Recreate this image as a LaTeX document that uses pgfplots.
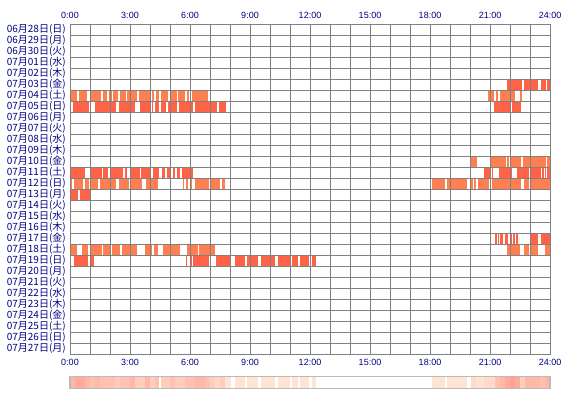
\documentclass[border=0pt]{standalone}
\usepackage{pgfplots}
\pgfplotsset{compat=1.18}
\usepackage{fontspec}
\setmainfont{Liberation Sans}
\newfontfamily\jp{Noto Sans CJK JP}
\definecolor{labc}{HTML}{000080}
\definecolor{gridc}{HTML}{808080}
\definecolor{barA}{HTML}{FF7F50}
\definecolor{barB}{HTML}{FF6347}
\definecolor{sbord}{HTML}{BBBBBB}
\definecolor{sA}{HTML}{FFE4D4}
\definecolor{sB}{HTML}{FFD9C9}
\definecolor{sC}{HTML}{FFCDBD}
\definecolor{sD}{HTML}{FFC2B2}
\definecolor{sE}{HTML}{FFB7A7}
\definecolor{sF}{HTML}{FFAB9B}
\definecolor{sG}{HTML}{FFA090}
\pgfplotsset{
  rowbar/.style={line width=10bp, line cap=butt, unbounded coords=jump, mark=none},
  stripbar/.style={line width=12bp, line cap=butt, unbounded coords=jump, mark=none},
}
\begin{document}
\begin{tikzpicture}[x=1bp,y=1bp]
\path[use as bounding box] (0,0) rectangle (570,-400);
% bottom tick labels (separate axis)
\begin{axis}[
  at={(70bp,-354bp)}, anchor=south west,
  scale only axis, width=480bp, height=330bp,
  xmin=0, xmax=24, ymin=-0.5, ymax=29.5,
  hide y axis, axis x line*=bottom, axis line style={draw=none},
  xtick={0,3,...,24},
  xticklabels={0:00,3:00,6:00,9:00,12:00,15:00,18:00,21:00,24:00},
  major tick length=0,
  xticklabel style={text=labc, font=\fontsize{9bp}{9bp}\selectfont, inner sep=0pt, anchor=north, yshift=-4.5bp},
]
\end{axis}
\begin{axis}[
  at={(70bp,-354bp)}, anchor=south west,
  scale only axis, width=480bp, height=330bp,
  xmin=0, xmax=24, ymin=-0.5, ymax=29.5, y dir=reverse,
  xtick={0,3,...,24},
  xticklabels={0:00,3:00,6:00,9:00,12:00,15:00,18:00,21:00,24:00},
  xticklabel pos=right,
  minor x tick num=2,
  ytick={0,...,29},
  yticklabels={{06月28日(日)},{06月29日(月)},{06月30日(火)},{07月01日(水)},{07月02日(木)},{07月03日(金)},{07月04日(土)},{07月05日(日)},{07月06日(月)},{07月07日(火)},{07月08日(水)},{07月09日(木)},{07月10日(金)},{07月11日(土)},{07月12日(日)},{07月13日(月)},{07月14日(火)},{07月15日(水)},{07月16日(木)},{07月17日(金)},{07月18日(土)},{07月19日(日)},{07月20日(月)},{07月21日(火)},{07月22日(水)},{07月23日(木)},{07月24日(金)},{07月25日(土)},{07月26日(日)},{07月27日(月)}},
  minor ytick={-0.5,0.5,...,29.5},
  xmajorgrids, xminorgrids, yminorgrids,
  major grid style={gridc, line width=1bp},
  minor grid style={gridc, line width=1bp},
  axis line style={gridc, line width=1bp},
  major tick length=0, minor tick length=0,
  axis on top,
  xticklabel style={text=labc, font=\fontsize{9bp}{9bp}\selectfont, inner sep=0pt, anchor=south, yshift=5bp},
  yticklabel style={text=labc, font=\jp\fontsize{10bp}{10bp}\selectfont, inner sep=0pt, anchor=east, xshift=-4bp},
]
% 07/03
\addplot[barB, rowbar] coordinates {(21.87,5)(22.6,5) (nan,nan) (22.7,5)(23.0,5) (nan,nan) (23.05,5)(23.38,5) (nan,nan) (23.55,5)(23.78,5) (nan,nan) (23.85,5)(24,5)};
% 07/04
\addplot[barA, rowbar] coordinates {(0.03,6)(0.37,6) (nan,nan) (0.45,6)(0.87,6) (nan,nan) (1.03,6)(1.53,6) (nan,nan) (1.63,6)(1.87,6) (nan,nan) (1.97,6)(2.08,6) (nan,nan) (2.13,6)(2.42,6) (nan,nan) (2.5,6)(2.8,6) (nan,nan) (2.87,6)(3.33,6) (nan,nan) (3.45,6)(4.03,6) (nan,nan) (4.12,6)(4.2,6) (nan,nan) (4.28,6)(4.45,6) (nan,nan) (4.55,6)(4.92,6) (nan,nan) (5.0,6)(5.33,6) (nan,nan) (5.42,6)(5.75,6) (nan,nan) (5.83,6)(5.97,6) (nan,nan) (6.08,6)(6.92,6) (nan,nan) (7.0,6)(7.07,6) (nan,nan) (20.92,6)(21.0,6) (nan,nan) (21.07,6)(21.22,6) (nan,nan) (21.28,6)(21.42,6) (nan,nan) (21.5,6)(22.25,6) (nan,nan) (22.5,6)(22.6,6)};
% 07/05
\addplot[barB, rowbar] coordinates {(0.13,7)(0.93,7) (nan,nan) (1.27,7)(2.3,7) (nan,nan) (2.45,7)(3.25,7) (nan,nan) (3.5,7)(4.0,7) (nan,nan) (4.1,7)(4.17,7) (nan,nan) (4.25,7)(4.45,7) (nan,nan) (4.55,7)(4.8,7) (nan,nan) (4.88,7)(5.35,7) (nan,nan) (5.45,7)(6.15,7) (nan,nan) (6.27,7)(7.33,7) (nan,nan) (7.45,7)(7.8,7) (nan,nan) (21.2,7)(22.0,7) (nan,nan) (22.08,7)(22.53,7)};
% 07/10
\addplot[barA, rowbar] coordinates {(20.05,12)(20.33,12) (nan,nan) (21.05,12)(21.8,12) (nan,nan) (21.87,12)(21.95,12) (nan,nan) (22.03,12)(22.53,12) (nan,nan) (22.63,12)(23.0,12) (nan,nan) (23.05,12)(23.78,12) (nan,nan) (23.87,12)(24,12)};
% 07/11
\addplot[barB, rowbar] coordinates {(0.03,13)(0.75,13) (nan,nan) (1.05,13)(1.62,13) (nan,nan) (1.67,13)(1.92,13) (nan,nan) (2.03,13)(2.67,13) (nan,nan) (2.75,13)(2.83,13) (nan,nan) (3.03,13)(3.5,13) (nan,nan) (3.55,13)(4.0,13) (nan,nan) (4.15,13)(4.45,13) (nan,nan) (4.58,13)(4.75,13) (nan,nan) (4.83,13)(5.03,13) (nan,nan) (5.13,13)(5.25,13) (nan,nan) (5.33,13)(5.5,13) (nan,nan) (5.58,13)(6.13,13) (nan,nan) (20.7,13)(21.0,13) (nan,nan) (21.1,13)(21.17,13) (nan,nan) (21.45,13)(22.1,13) (nan,nan) (22.33,13)(22.97,13) (nan,nan) (23.05,13)(23.55,13) (nan,nan) (23.62,13)(23.68,13) (nan,nan) (23.73,13)(23.78,13) (nan,nan) (23.85,13)(24,13)};
% 07/12
\addplot[barA, rowbar] coordinates {(0.03,14)(0.08,14) (nan,nan) (0.22,14)(0.67,14) (nan,nan) (0.75,14)(0.97,14) (nan,nan) (1.05,14)(1.38,14) (nan,nan) (1.5,14)(2.3,14) (nan,nan) (2.47,14)(2.93,14) (nan,nan) (3.07,14)(3.58,14) (nan,nan) (3.8,14)(4.38,14) (nan,nan) (5.67,14)(5.72,14) (nan,nan) (5.8,14)(5.88,14) (nan,nan) (6.0,14)(6.1,14) (nan,nan) (6.25,14)(6.95,14) (nan,nan) (7.05,14)(7.5,14) (nan,nan) (7.58,14)(7.75,14) (nan,nan) (18.1,14)(18.75,14) (nan,nan) (18.85,14)(19.85,14) (nan,nan) (20.03,14)(20.13,14) (nan,nan) (20.2,14)(20.28,14) (nan,nan) (20.38,14)(20.97,14) (nan,nan) (21.12,14)(22.53,14) (nan,nan) (22.7,14)(22.97,14) (nan,nan) (23.0,14)(24,14)};
% 07/13
\addplot[barB, rowbar] coordinates {(0.03,15)(0.42,15) (nan,nan) (0.52,15)(1.0,15)};
% 07/17
\addplot[barB, rowbar] coordinates {(21.25,19)(21.33,19) (nan,nan) (21.38,19)(21.45,19) (nan,nan) (21.5,19)(21.63,19) (nan,nan) (21.75,19)(21.88,19) (nan,nan) (22.05,19)(22.12,19) (nan,nan) (22.17,19)(22.25,19) (nan,nan) (22.3,19)(22.38,19) (nan,nan) (23.0,19)(23.38,19) (nan,nan) (23.55,19)(24,19)};
% 07/18
\addplot[barA, rowbar] coordinates {(0.03,20)(0.33,20) (nan,nan) (0.58,20)(0.92,20) (nan,nan) (1.03,20)(1.58,20) (nan,nan) (1.67,20)(2.0,20) (nan,nan) (2.08,20)(2.5,20) (nan,nan) (2.58,20)(3.37,20) (nan,nan) (3.75,20)(4.08,20) (nan,nan) (4.2,20)(4.42,20) (nan,nan) (4.67,20)(5.5,20) (nan,nan) (5.83,20)(6.42,20) (nan,nan) (6.47,20)(7.25,20) (nan,nan) (21.85,20)(22.5,20) (nan,nan) (22.7,20)(22.97,20) (nan,nan) (23.03,20)(23.38,20) (nan,nan) (23.75,20)(24,20)};
% 07/19
\addplot[barB, rowbar] coordinates {(0.2,21)(0.92,21) (nan,nan) (1.03,21)(1.2,21) (nan,nan) (5.78,21)(5.87,21) (nan,nan) (6.0,21)(6.08,21) (nan,nan) (6.13,21)(6.97,21) (nan,nan) (7.3,21)(8.03,21) (nan,nan) (8.25,21)(8.75,21) (nan,nan) (8.83,21)(9.42,21) (nan,nan) (9.53,21)(10.25,21) (nan,nan) (10.42,21)(11.0,21) (nan,nan) (11.1,21)(11.42,21) (nan,nan) (11.5,21)(11.97,21) (nan,nan) (12.08,21)(12.28,21)};
\end{axis}
% density strip
\begin{axis}[
  at={(70bp,-388.5bp)}, anchor=south west,
  scale only axis, width=480bp, height=12bp,
  xmin=0, xmax=24, ymin=-0.5, ymax=0.5,
  ticks=none, axis on top,
  axis line style={sbord, line width=1.2bp},
]
\addplot[sA, stripbar] coordinates {(7.75,0)(8.03,0) (nan,nan) (8.25,0)(8.75,0) (nan,nan) (8.83,0)(9.42,0) (nan,nan) (9.53,0)(10.25,0) (nan,nan) (10.42,0)(11.0,0) (nan,nan) (11.1,0)(11.42,0) (nan,nan) (11.5,0)(11.97,0) (nan,nan) (12.08,0)(12.28,0) (nan,nan) (18.1,0)(18.75,0) (nan,nan) (18.85,0)(19.85,0) (nan,nan) (20.3,0)(20.7,0)};
\addplot[sB, stripbar] coordinates {(7.25,0)(7.5,0) (nan,nan) (20.03,0)(20.3,0) (nan,nan) (20.7,0)(21.25,0)};
\addplot[sC, stripbar] coordinates {(2.25,0)(2.5,0) (nan,nan) (3.25,0)(3.75,0) (nan,nan) (4.0,0)(4.25,0) (nan,nan) (4.53,0)(5.0,0) (nan,nan) (5.25,0)(5.75,0) (nan,nan) (7.0,0)(7.25,0) (nan,nan) (7.5,0)(7.75,0) (nan,nan) (22.5,0)(22.75,0)};
\addplot[sD, stripbar] coordinates {(1.0,0)(1.25,0) (nan,nan) (1.5,0)(2.25,0) (nan,nan) (2.5,0)(3.0,0) (nan,nan) (4.25,0)(4.47,0) (nan,nan) (5.0,0)(5.25,0) (nan,nan) (5.75,0)(6.25,0) (nan,nan) (6.75,0)(7.0,0) (nan,nan) (21.25,0)(21.5,0) (nan,nan) (23.5,0)(23.75,0)};
\addplot[sE, stripbar] coordinates {(0,0)(0.25,0) (nan,nan) (0.75,0)(1.0,0) (nan,nan) (1.25,0)(1.5,0) (nan,nan) (3.0,0)(3.25,0) (nan,nan) (3.75,0)(4.0,0) (nan,nan) (6.25,0)(6.75,0) (nan,nan) (21.5,0)(21.75,0) (nan,nan) (22.75,0)(23.5,0) (nan,nan) (23.75,0)(24,0)};
\addplot[sF, stripbar] coordinates {(0.25,0)(0.75,0) (nan,nan) (21.75,0)(22.0,0) (nan,nan) (22.25,0)(22.5,0)};
\addplot[sG, stripbar] coordinates {(22.0,0)(22.25,0)};
\end{axis}
\end{tikzpicture}
\end{document}
